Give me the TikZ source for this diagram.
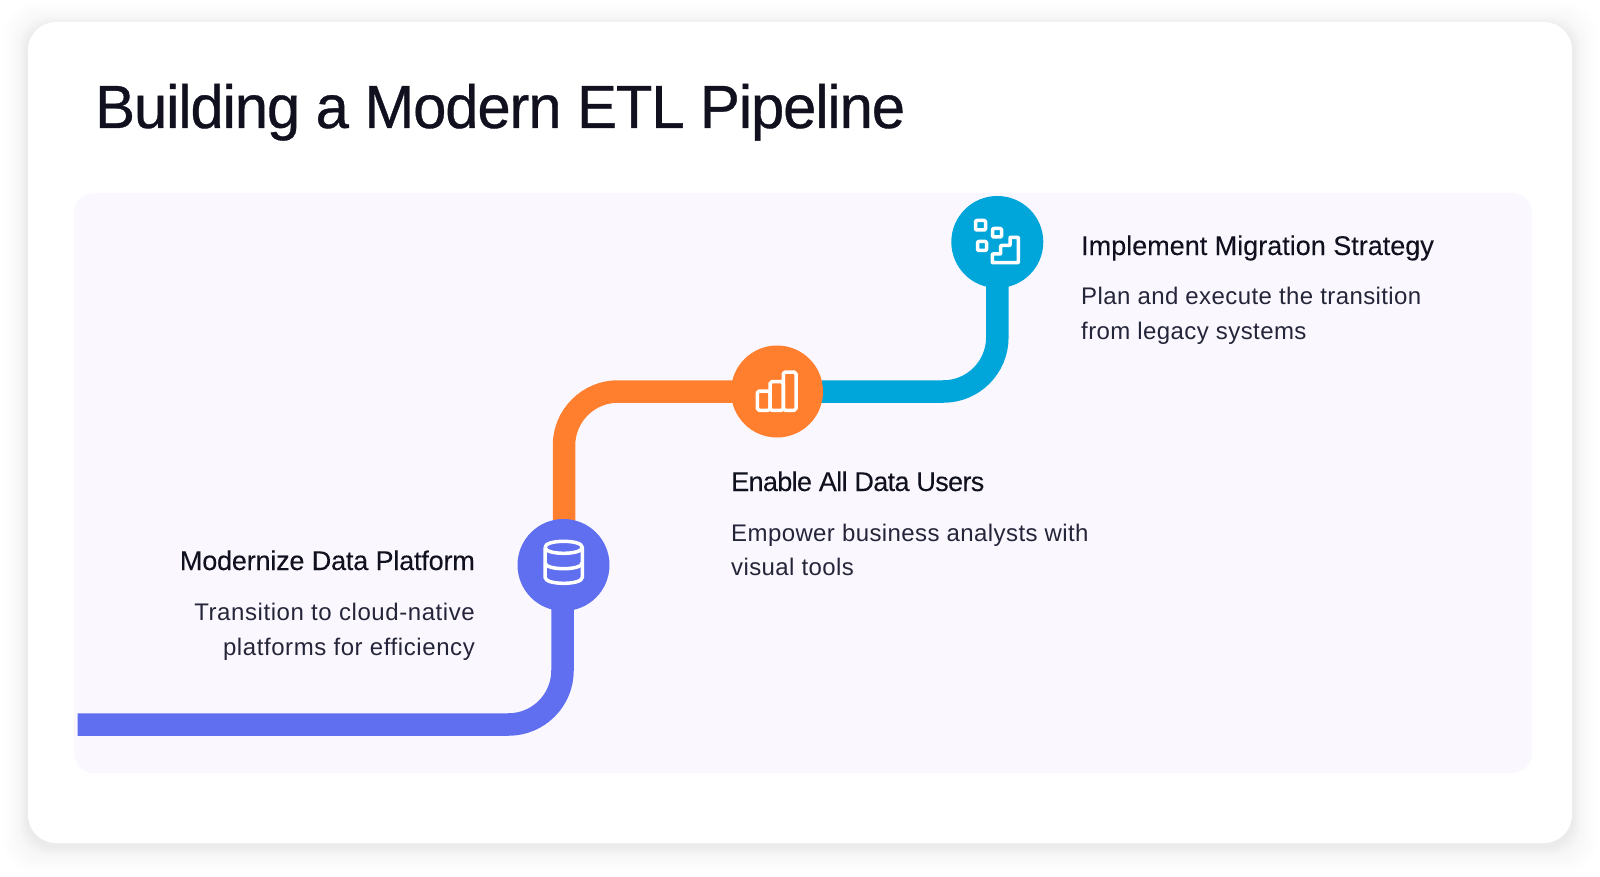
\documentclass[tikz,border=0pt]{standalone}
\usepackage{fontspec}
\setmainfont{Liberation Sans}
\newfontfamily\bodyfont[LetterSpace=1.7]{Liberation Sans}
\newfontfamily\bodyfontA[LetterSpace=2.4]{Liberation Sans}
\newfontfamily\titlefont[LetterSpace=-1.8,FakeStretch=0.98,FakeBold=0.55]{Liberation Sans}
\newfontfamily\headfont[FakeBold=0.12]{Liberation Sans}
\newfontfamily\headfontB[LetterSpace=-2.4,FakeBold=0.12]{Liberation Sans}
\newfontfamily\headfontA[LetterSpace=-0.7,FakeBold=0.12]{Liberation Sans}
\pgfdeclarelayer{panel}
\pgfdeclarelayer{conn}
\pgfsetlayers{panel,conn,main}
\definecolor{ink}{HTML}{10101F}
\definecolor{bodyink}{HTML}{25253A}
\definecolor{indigoc}{HTML}{5F6FF0}
\definecolor{orangec}{HTML}{FF7F2F}
\definecolor{cyanc}{HTML}{00A5DA}
\definecolor{panelc}{HTML}{FAF8FE}
\tikzset{
  x=1pt,y=-1pt,
  hub/.style={circle,minimum size=92pt,inner sep=0pt,draw=none},
  pipe/.style={line width=22.5pt,rounded corners=54pt,line cap=butt},
  glyph/.style={draw=white,line width=3.5pt,line join=round,rounded corners=1.8pt},
  headtext/.style={inner sep=0pt,text=ink,font=\fontsize{27}{32}\selectfont},
  desc/.style={inner sep=0pt,text=bodyink,font=\bodyfont\fontsize{24}{35}\selectfont},
  descA/.style={inner sep=0pt,text=bodyink,font=\bodyfontA\fontsize{24}{35}\selectfont},
  titletext/.style={inner sep=0pt,text=ink,font=\titlefont\fontsize{61}{70}\selectfont},
}
\begin{document}
\begin{tikzpicture}
\useasboundingbox (0,0) rectangle (1600,877);
\begin{pgfonlayer}{panel}
\fill[white] (0,0) rectangle (1600,877);
\foreach \g in {24,22,...,2}{
  \fill[black,opacity=0.0045,rounded corners=30pt]
    (28-\g,22-\g+5) rectangle (1572+\g,843+\g+5);
}
\foreach \g in {8,6,4,2}{
  \fill[black,opacity=0.006,rounded corners=29pt]
    (28-\g,22-\g+3) rectangle (1572+\g,843+\g+3);
}
\fill[white,rounded corners=28pt] (28,22) rectangle (1572,843);
\fill[panelc,rounded corners=20pt] (74,193) rectangle (1532,773);
\end{pgfonlayer}

\node[titletext,anchor=base west] (title) at (95,128) {Building a Modern ETL Pipeline};

\node[hub,fill=indigoc] (hubA) at (563.5,565) {};
\node[hub,fill=orangec] (hubB) at (777,391.5) {};
\node[hub,fill=cyanc] (hubC) at (997.3,242) {};
\coordinate (start) at (77.5,724.5);

\begin{pgfonlayer}{conn}
\draw[pipe,cyanc] (hubB.center) -| (hubC.center);
\draw[pipe,orangec] ([xshift=0.5pt]hubA.center) |- (hubB.center);
\draw[pipe,indigoc] (start) -| ([xshift=-1pt]hubA.center);
\end{pgfonlayer}

% database icon
\draw[glyph,rounded corners=0pt] (545,547.3) .. controls (545,555.3) and (582.3,555.3) .. (582.3,547.3)
   .. controls (582.3,539.3) and (545,539.3) .. (545,547.3);
\draw[glyph,rounded corners=0pt] (545,547.3) -- (545,577.3) .. controls (545,585.3) and (582.3,585.3) .. (582.3,577.3) -- (582.3,547.3);
\draw[glyph,rounded corners=0pt] (545,562.7) .. controls (545,570.7) and (582.3,570.7) .. (582.3,562.7);

% bars icon
\draw[glyph] (757.3,391) rectangle (770,410.3);
\draw[glyph] (770,381.7) rectangle (783.3,410.3);
\draw[glyph] (783.3,372) rectangle (796,410.3);

% steps icon
\draw[glyph,rounded corners=1pt] (975.5,220.5) rectangle (985.5,230);
\draw[glyph,rounded corners=1pt] (992.5,228.5) rectangle (1001.5,237);
\draw[glyph,rounded corners=1pt] (977.5,241.5) rectangle (986.5,250.5);
\draw[glyph,rounded corners=0.6pt] (992.3,262.7) -- (1018.3,262.7) -- (1018.3,237.3) -- (1010,237.3) -- (1010,245.5) -- (1000.7,245.5) -- (1000.7,254) -- (992.3,254) -- cycle;

% labels
\node[headtext,anchor=base west,font=\headfont\fontsize{27}{32}\selectfont] (headC) at (1081,255) {Implement Migration Strategy};
\node[desc,anchor=base west] (descC1) at (1081,304) {Plan and execute the transition};
\node[desc,anchor=base west] (descC2) at (1081,339) {from legacy systems};

\node[headtext,anchor=base west,font=\headfontB\fontsize{27}{32}\selectfont] (headB) at (731,491) {Enable All Data Users};
\node[desc,anchor=base west] (descB1) at (731,541) {Empower business analysts with};
\node[desc,anchor=base west] (descB2) at (731,575) {visual tools};

\node[headtext,anchor=base east,font=\headfontA\fontsize{27}{32}\selectfont] (headA) at (475,570) {Modernize Data Platform};
\node[descA,anchor=base east] (descA1) at (475,620) {Transition to cloud-native};
\node[descA,anchor=base east] (descA2) at (475,655) {platforms for efficiency};
\end{tikzpicture}
\end{document}
